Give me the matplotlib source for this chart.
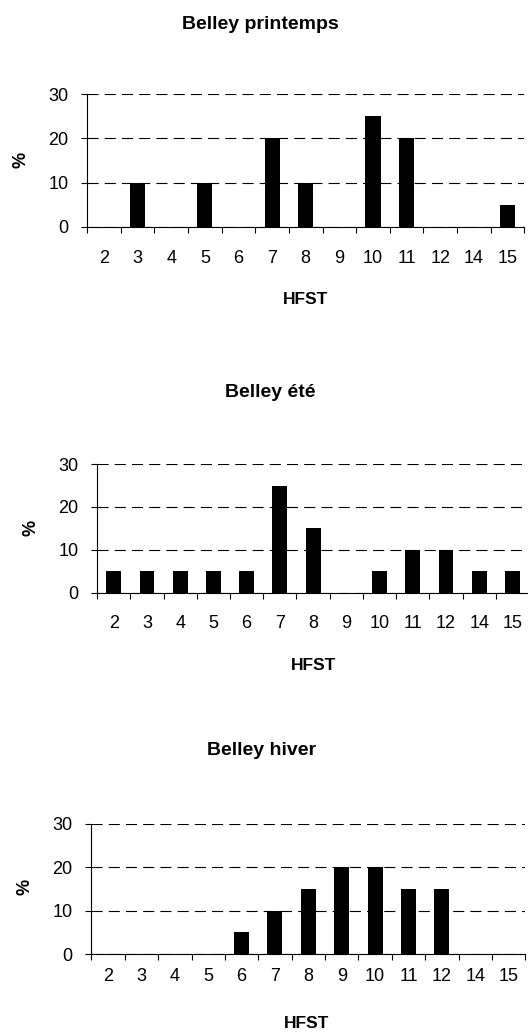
import numpy as np
import matplotlib.pyplot as plt
from matplotlib.ticker import FixedLocator

plt.rcParams['font.family'] = ['Liberation Sans', 'DejaVu Sans']

hfst = ['2', '3', '4', '5', '6', '7', '8', '9', '10', '11', '12', '14', '15']
printemps = [0, 10, 0, 10, 0, 20, 10, 0, 25, 20, 0, 0, 5]
ete = [5, 5, 5, 5, 5, 25, 15, 0, 5, 10, 10, 5, 5]
hiver = [0, 0, 0, 0, 5, 10, 15, 20, 20, 15, 15, 0, 0]

titles = ['Belley printemps', 'Belley été', 'Belley hiver']
series = [printemps, ete, hiver]

fig = plt.figure(figsize=(5.28, 10.36), dpi=100)

# axes boxes in figure fractions (left, bottom, width, height)
boxes = [(0.165, 0.781, 0.828, 0.128),
         (0.184, 0.428, 0.818, 0.124),
         (0.173, 0.079, 0.822, 0.126)]
title_pos = [(0.494, 0.976), (0.511, 0.621), (0.496, 0.276)]
xlabel_pos = [(0.578, 0.711), (0.593, 0.358), (0.580, 0.0125)]
ylabel_pos = [(0.040, 0.846), (0.059, 0.490), (0.047, 0.144)]
xpads = [16.5, 16, 10]

x = np.arange(len(hfst))
for i, (box, vals, title) in enumerate(zip(boxes, series, titles)):
    ax = fig.add_axes(box)
    ax.bar(x, vals, width=0.45, color='black', zorder=3)
    ax.set_xlim(-0.5, len(hfst) - 0.5)
    ax.set_ylim(0, 30)
    ax.set_yticks([0, 10, 20, 30])
    ax.yaxis.grid(True, linestyle=(0, (10, 5.5)), color='black', linewidth=0.8)
    ax.set_axisbelow(True)
    ax.spines['top'].set_visible(False)
    ax.spines['right'].set_visible(False)
    ax.spines['left'].set_linewidth(0.8)
    ax.spines['bottom'].set_linewidth(0.8)
    ax.set_xticks(x)
    ax.set_xticklabels(hfst, fontsize=13)
    ax.tick_params(axis='x', which='major', length=0, pad=xpads[i])
    ax.xaxis.set_minor_locator(FixedLocator(np.arange(len(hfst) + 1) - 0.5))
    ax.tick_params(axis='x', which='minor', length=4.5, width=0.8)
    ax.tick_params(axis='y', labelsize=13, length=4.5, width=0.8, pad=9)
    fig.text(*ylabel_pos[i], '%', rotation=90, ha='center', va='center',
             fontsize=13, fontweight='bold')
    fig.text(*title_pos[i], title, ha='center', va='center', fontsize=14, fontweight='bold')
    fig.text(*xlabel_pos[i], 'HFST', ha='center', va='center', fontsize=12.5, fontweight='bold')

fig.savefig('out.png', dpi=100)
